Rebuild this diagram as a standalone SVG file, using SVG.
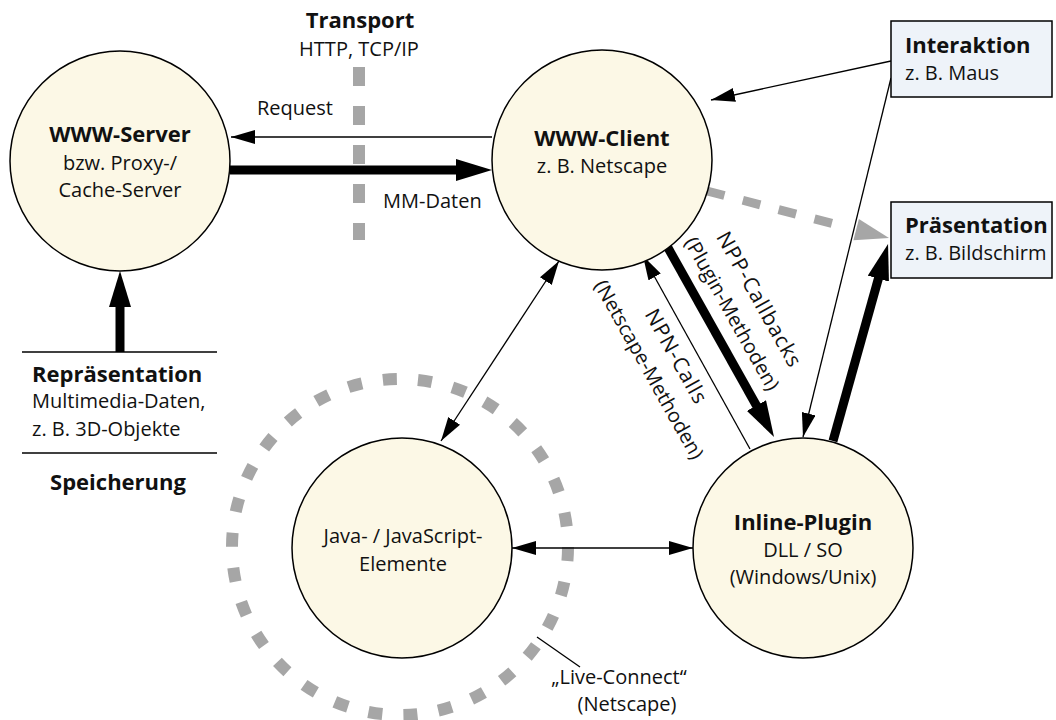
<svg xmlns="http://www.w3.org/2000/svg" width="1056" height="720" viewBox="0 0 1056 720">
  <style>
    text { font-family: "Open Sans", "Noto Sans", "DejaVu Sans", sans-serif; font-size: 20px; fill: #111; }
    .b { font-weight: bold; font-size: 22px; }
    .c { text-anchor: middle; }
    .w { font-size: 21px; letter-spacing: 1px; }
    .node { fill: #FCF8E6; stroke: #000; stroke-width: 1.5; }
    .box { fill: #EEF3F9; stroke: #000; stroke-width: 1.5; }
    .thin { stroke: #000; stroke-width: 1.3; fill: none; }
    .thick { stroke: #000; stroke-width: 9; fill: none; }
    .gray { stroke: #A6A6A6; fill: none; }
  </style>
  <defs>
    <marker id="head" markerUnits="userSpaceOnUse" viewBox="0 0 24 14" markerWidth="24" markerHeight="14" refX="24" refY="7" orient="auto-start-reverse">
      <path d="M0,0 L24,7 L0,14 z" fill="#000"/>
    </marker>
    <marker id="bighead" markerUnits="userSpaceOnUse" viewBox="0 0 36 22" markerWidth="36" markerHeight="22" refX="2" refY="11" orient="auto">
      <path d="M0,0 L36,11 L0,22 z" fill="#000"/>
    </marker>
  </defs>

  <!-- background guides: transport border and live-connect ring -->
  <line class="gray" x1="359" y1="67" x2="359" y2="240" stroke-width="12" stroke-dasharray="19 20"/>
  <circle class="gray" cx="400" cy="547" r="168" stroke-width="12" stroke-dasharray="14 21.19"/>

  <!-- connectors -->
  <g id="connectors">
    <line class="thin" x1="492" y1="137" x2="231" y2="137" marker-end="url(#head)"/>
    <line class="thick" x1="230" y1="170" x2="458" y2="170" marker-end="url(#bighead)"/>
    <line class="thick" x1="120" y1="352" x2="120" y2="305" marker-end="url(#bighead)"/>
    <line class="thin" x1="891" y1="61" x2="711" y2="100" marker-end="url(#head)"/>
    <line class="thin" x1="891" y1="78" x2="803" y2="437" marker-end="url(#head)"/>
    <line class="gray" x1="707" y1="191" x2="850" y2="228" stroke-width="9" stroke-dasharray="18 19"/>
    <polygon points="889,238 853.4,240.2 858.9,218.9" fill="#A6A6A6"/>
    <line class="thick" x1="833" y1="441" x2="878.9" y2="276.7" marker-end="url(#bighead)"/>
    <line class="thick" x1="667" y1="246" x2="757.4" y2="407.3" marker-end="url(#bighead)"/>
    <line class="thin" x1="750" y1="449" x2="643" y2="256" marker-end="url(#head)"/>
    <line class="thin" x1="559" y1="261" x2="441" y2="441" marker-start="url(#head)" marker-end="url(#head)"/>
    <line class="thin" x1="512" y1="548" x2="693" y2="548" marker-start="url(#head)" marker-end="url(#head)"/>
    <line class="thin" x1="537" y1="637" x2="580" y2="667"/>
  </g>

  <!-- connector labels -->
  <g id="labels">
    <text class="b c" x="360" y="28">Transport</text>
    <text class="c" x="359" y="56">HTTP, TCP/IP</text>
    <text x="257" y="115">Request</text>
    <text x="383" y="208">MM-Daten</text>
    <text class="c w" transform="translate(753,303) rotate(60.7)">NPP-Callbacks</text>
    <text class="c" transform="translate(726,317) rotate(60.7)">(Plugin-Methoden)</text>
    <text class="c w" transform="translate(670,360) rotate(60.7)">NPN-Calls</text>
    <text class="c" transform="translate(643,373) rotate(60.7)">(Netscape-Methoden)</text>
    <text class="c" x="619" y="684">„Live-Connect“</text>
    <text class="c" x="627" y="711">(Netscape)</text>
  </g>

  <g id="server">
    <circle class="node" cx="120" cy="161" r="110"/>
    <text class="b c" x="120" y="142">WWW-Server</text>
    <text class="c" x="120" y="170">bzw. Proxy-/</text>
    <text class="c" x="120" y="197">Cache-Server</text>
  </g>

  <g id="client">
    <circle class="node" cx="602" cy="160" r="110"/>
    <text class="b c" x="602" y="146">WWW-Client</text>
    <text class="c" x="602" y="173">z. B. Netscape</text>
  </g>

  <g id="java">
    <circle class="node" cx="402" cy="548" r="110"/>
    <text class="c" x="403" y="543">Java- / JavaScript-</text>
    <text class="c" x="403" y="571">Elemente</text>
  </g>

  <g id="plugin">
    <circle class="node" cx="803" cy="548" r="110"/>
    <text class="b c" x="803" y="530">Inline-Plugin</text>
    <text class="c" x="803" y="557">DLL / SO</text>
    <text class="c" x="803" y="584">(Windows/Unix)</text>
  </g>

  <g id="interaktion">
    <rect class="box" x="891" y="21" width="161" height="76"/>
    <text class="b" x="905" y="53">Interaktion</text>
    <text x="905" y="80">z. B. Maus</text>
  </g>

  <g id="praesentation">
    <rect class="box" x="891" y="202" width="161" height="76"/>
    <text class="b" x="905" y="233">Präsentation</text>
    <text x="905" y="260">z. B. Bildschirm</text>
  </g>

  <g id="speicher">
    <line x1="22" y1="352" x2="217" y2="352" stroke="#000" stroke-width="1.5"/>
    <line x1="22" y1="453" x2="217" y2="453" stroke="#000" stroke-width="1.5"/>
    <text class="b" x="32" y="382">Repräsentation</text>
    <text x="32" y="408">Multimedia-Daten,</text>
    <text x="32" y="436">z. B. 3D-Objekte</text>
    <text class="b c" x="118" y="490">Speicherung</text>
  </g>
</svg>
